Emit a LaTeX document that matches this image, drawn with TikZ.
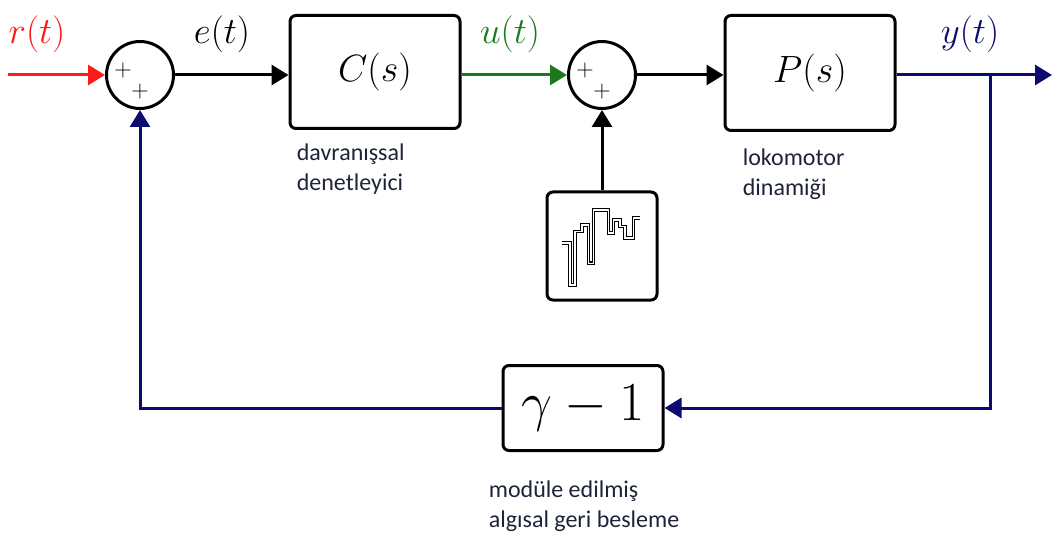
\RequirePackage{fix-cm}
\documentclass[tikz,border=0pt]{standalone}
\usepackage{fontspec}
\newfontfamily\notefont{Carlito}
\usepackage{xcolor}
\usepackage{tikz}
\usetikzlibrary{positioning, arrows.meta, calc}
\definecolor{refred}{HTML}{FF1A1A}
\definecolor{ctrlgreen}{HTML}{1A7A1A}
\definecolor{fbnavy}{HTML}{0C0C70}
\definecolor{notetext}{HTML}{1E2438}

\begin{document}
\begin{tikzpicture}[x=1pt, y=-1pt, line width=3pt,
    blockbox/.style={draw=black, rounded corners=6pt, fill=white, inner sep=0pt},
    sumnode/.style={draw=black, circle, minimum size=67pt, inner sep=0pt},
    signaltip/.style={-{Triangle[length=17pt, width=20pt]}},
    notelabel/.style={font=\notefont\fontsize{24}{30}\selectfont, text=notetext, align=left},
    siglabel/.style={font=\fontsize{37}{40}\selectfont}]
    \useasboundingbox (0,0) rectangle (1055,540);
    % summing junctions
    \node[sumnode] (sumin) at (140,75) {};
    \node[sumnode] (sumdist) at (602,75) {};
    \foreach \s in {sumin, sumdist} {
      \node[font=\fontsize{24}{24}\selectfont] at ($(\s)+(-17,-4)$) {$+$};
      \node[font=\fontsize{24}{24}\selectfont] at ($(\s)+(0,17)$) {$+$};
    }
    % blocks
    \node[blockbox, minimum width=170pt, minimum height=113pt,
          font=\fontsize{38}{40}\selectfont] (ctrl) at (375,72) {$C(s)$};
    \node[blockbox, minimum width=170pt, minimum height=115pt,
          font=\fontsize{38}{40}\selectfont] (plant) at (810,73) {$P(s)$};
    \node[blockbox, minimum width=160pt, minimum height=85pt,
          font=\fontsize{55}{58}\selectfont] (gain) at (583,408) {$\gamma-1$};
    \node[blockbox, minimum width=110pt, minimum height=108pt] (noise) at (602,246) {};
    % noise signal
    \draw[line width=1pt, double=white, double distance=1.6pt]
      (561.7,243.3) -- (570,243.3) -- (570,285) -- (575,285) -- (575,231.7)
      -- (581.7,231.7) -- (581.7,225) -- (588.3,225) -- (588.3,263.3)
      -- (593.3,263.3) -- (593.3,210) -- (608.3,210) -- (608.3,233.3)
      -- (613.3,233.3) -- (613.3,220) -- (620,220) -- (620,226.7)
      -- (625,226.7) -- (625,238.3) -- (633.3,238.3) -- (633.3,218.3) -- (640,218.3);
    % notes
    \node[notelabel, anchor=north west] (ctrlnote) at (292,139) {davranışsal\\denetleyici};
    \node[notelabel, anchor=north west] (plantnote) at (738,144) {lokomotor\\dinamiği};
    \node[notelabel, anchor=north west] (gainnote) at (484,476) {modüle edilmiş\\algısal geri besleme};
    % signal ends
    \coordinate (refin) at (8,75);
    \coordinate (outend) at (1052,75);
    \coordinate (tap) at (990,75);
    % connectors
    \draw[signaltip, refred] (refin) -- (sumin.west);
    \draw[signaltip] (sumin.east) -- (ctrl.west |- sumin);
    \draw[signaltip, ctrlgreen] (ctrl.east |- sumdist) -- (sumdist.west);
    \draw[signaltip] (sumdist.east) -- (plant.west |- sumdist);
    \draw[signaltip] (noise.north) -- (sumdist.south);
    \draw[signaltip, fbnavy] (plant.east |- outend) -- (outend);
    \draw[signaltip, fbnavy] (tap) |- (gain.east);
    \draw[signaltip, fbnavy] (gain.west) -| (sumin.south);
    % signal labels
    \node[siglabel, text=refred] (rlab) at (37,34) {$r(t)$};
    \node[siglabel] (elab) at (222,34) {$e(t)$};
    \node[siglabel, text=ctrlgreen] (ulab) at (510,34) {$u(t)$};
    \node[siglabel, text=fbnavy] (ylab) at (970,34) {$y(t)$};
\end{tikzpicture}
\end{document}
